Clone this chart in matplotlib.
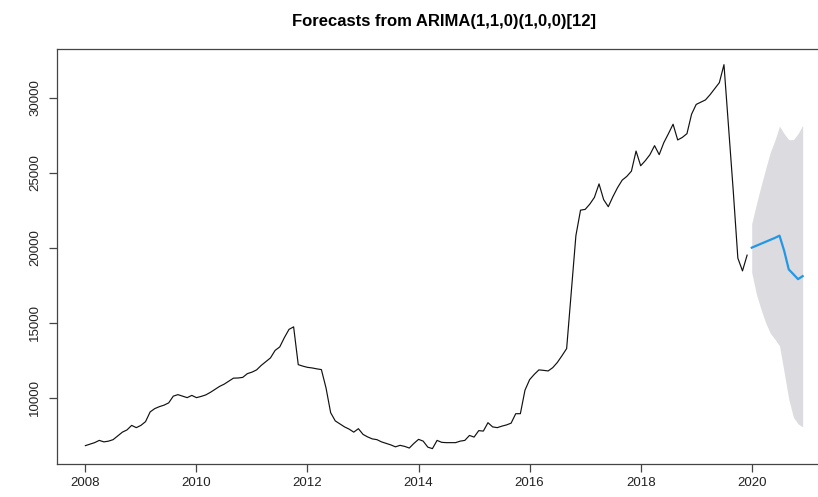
import numpy as np
import matplotlib
matplotlib.use('Agg')
import matplotlib.pyplot as plt

plt.rcParams['font.family'] = ['Liberation Sans', 'DejaVu Sans']

# monthly observations, Jan 2008 - Dec 2019
obs_2008 = [6800, 6900, 7000, 7150, 7050, 7100, 7200, 7450, 7700, 7850, 8150, 8000]
obs_2009 = [8150, 8400, 9050, 9270, 9400, 9500, 9650, 10100, 10200, 10100, 10000, 10150]
obs_2010 = [10000, 10080, 10180, 10350, 10550, 10750, 10900, 11100, 11300, 11310, 11350, 11600]
obs_2011 = [11700, 11850, 12150, 12400, 12650, 13150, 13380, 14000, 14550, 14720, 12200, 12100]
obs_2012 = [12020, 11980, 11920, 11870, 10650, 9000, 8450, 8250, 8050, 7900, 7700, 7930]
obs_2013 = [7550, 7380, 7250, 7200, 7050, 6950, 6850, 6720, 6820, 6750, 6640, 6950]
obs_2014 = [7220, 7100, 6700, 6600, 7150, 7020, 7000, 7000, 7000, 7100, 7150, 7480]
obs_2015 = [7370, 7800, 7770, 8330, 8050, 8000, 8100, 8180, 8300, 8930, 8930, 10500]
obs_2016 = [11200, 11550, 11850, 11820, 11780, 12000, 12350, 12800, 13270, 17000, 20800, 22500]
obs_2017 = [22550, 22900, 23350, 24250, 23200, 22730, 23400, 24000, 24500, 24750, 25100, 26440]
obs_2018 = [25460, 25800, 26200, 26800, 26200, 27000, 27600, 28230, 27180, 27350, 27600, 28900]
obs_2019 = [29550, 29700, 29850, 30200, 30600, 31000, 32200, 28000, 23800, 19300, 18450, 19500]

# 2020 point forecast and interval bounds
fc_mean = [20000, 20130, 20260, 20390, 20520, 20650, 20800, 19800, 18550, 18230, 17900, 18100]
fc_lower = [18350, 16900, 15900, 15000, 14300, 13900, 13450, 11700, 9900, 8700, 8250, 8050]
fc_upper = [21600, 22900, 24100, 25250, 26350, 27150, 28100, 27600, 27200, 27200, 27600, 28150]

obs = np.concatenate([obs_2008, obs_2009, obs_2010, obs_2011, obs_2012, obs_2013,
                      obs_2014, obs_2015, obs_2016, obs_2017, obs_2018, obs_2019])
t_obs = 2008 + np.arange(len(obs)) / 12
t_fc = 2020 + np.arange(len(fc_mean)) / 12

fig = plt.figure(figsize=(8.18, 4.97), dpi=100)
ax = fig.add_axes([0.0693, 0.0664, 0.947, 0.8344])

ax.fill_between(t_fc, fc_lower, fc_upper, color='#dbdbe0', lw=0)
ax.plot(t_obs, obs, color='#111111', lw=0.85)
ax.plot(t_fc, fc_mean, color='#2297e6', lw=1.6)

# R-style 4% padding on both axes
xr = t_fc[-1] - t_obs[0]
ax.set_xlim(t_obs[0] - 0.04 * xr, t_fc[-1] + 0.04 * xr)
lo = min(obs.min(), min(fc_lower))
hi = max(obs.max(), max(fc_upper))
ax.set_ylim(lo - 0.04 * (hi - lo), hi + 0.04 * (hi - lo))

ax.set_xticks(range(2008, 2021, 2))
ax.set_yticks(range(10000, 30001, 5000))
ax.tick_params(axis='both', direction='out', length=6, width=0.9, color='#444444',
               labelsize=9.5, labelcolor='#222222')
ax.tick_params(axis='y', pad=5)
for lab in ax.get_yticklabels():
    lab.set_rotation(90)
    lab.set_va('center')
for s in ax.spines.values():
    s.set_color('#444444')
    s.set_linewidth(0.9)

ax.set_title('Forecasts from ARIMA(1,1,0)(1,0,0)[12]', fontsize=12, fontweight='bold', pad=17)

fig.savefig('out.png', dpi=100)
